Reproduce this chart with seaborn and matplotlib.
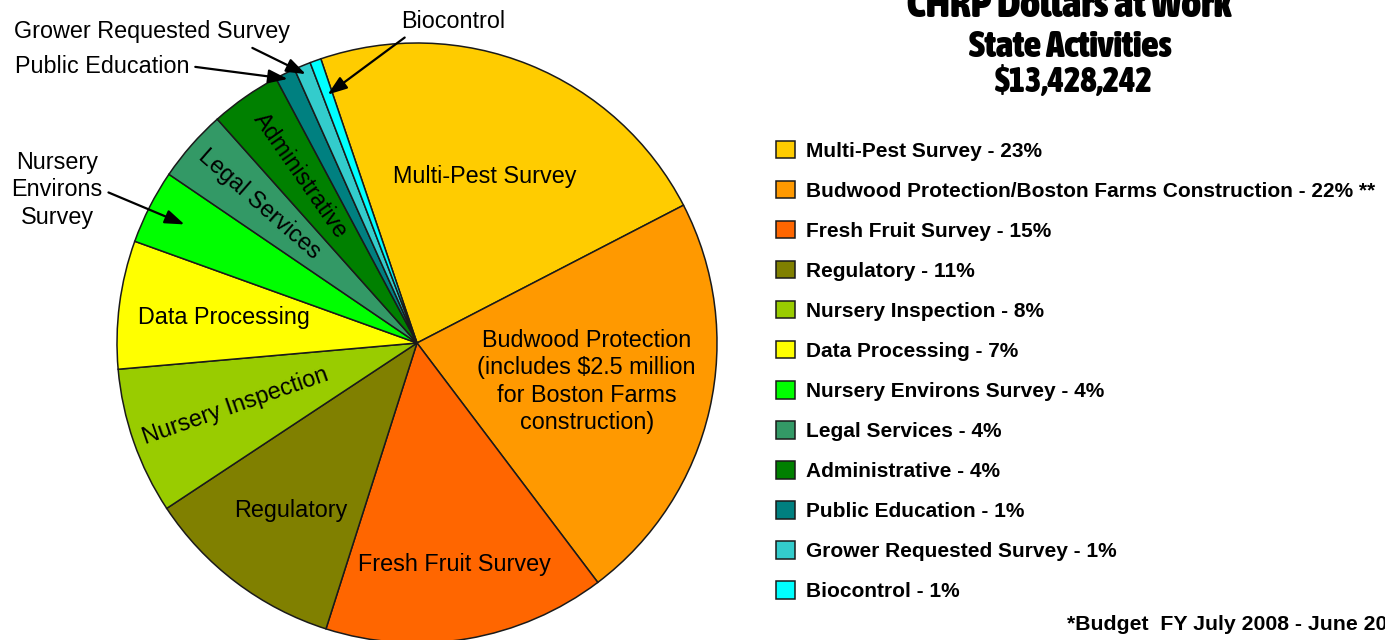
import numpy as np
import matplotlib
matplotlib.use('Agg')
import matplotlib.pyplot as plt
from matplotlib import font_manager
from matplotlib.font_manager import FontProperties
import seaborn as sns

# slice data (share of budget)
categories = ['Multi-Pest Survey', 'Budwood Protection/Boston Farms Construction',
              'Fresh Fruit Survey', 'Regulatory', 'Nursery Inspection',
              'Data Processing', 'Nursery Environs Survey', 'Legal Services',
              'Administrative', 'Public Education', 'Grower Requested Survey',
              'Biocontrol']
shares = [22.6, 22.3, 15.2, 10.8, 7.9, 6.9, 4.0, 3.9, 3.8, 1.1, 0.9, 0.6]
legend_pct = ['23%', '22% **', '15%', '11%', '8%', '7%', '4%', '4%', '4%',
              '1%', '1%', '1%']
slice_colors = ['#FFCC00', '#FF9900', '#FF6600', '#808000', '#99CC00', '#FFFF00',
                '#00FF00', '#339966', '#008000', '#008080', '#33CCCC', '#00FFFF']

# labels drawn inside the slices: text, radius, radial rotation
inner_labels = {
    'Multi-Pest Survey': ('Multi-Pest Survey', 0.60, False),
    'Budwood Protection/Boston Farms Construction':
        ('Budwood Protection\n(includes $2.5 million\nfor Boston Farms\nconstruction)', 0.58, False),
    'Fresh Fruit Survey': ('Fresh Fruit Survey', 0.75, False),
    'Regulatory': ('Regulatory', 0.70, False),
    'Nursery Inspection': ('Nursery Inspection', 0.64, True),
    'Data Processing': ('Data Processing', 0.65, False),
    'Legal Services': ('Legal Services', 0.70, True),
    'Administrative': ('Administrative', 0.68, True),
}

# labels outside the pie with arrows: text, text pos (data units), arrow radius, relpos
outer_labels = {
    'Nursery Environs Survey': ('Nursery\nEnvirons\nSurvey', (-1.20, 0.51), 0.87, (1.0, 0.5)),
    'Public Education': ('Public Education', (-1.05, 0.923), 0.98, (1.0, 0.5)),
    'Grower Requested Survey': ('Grower Requested Survey', (-0.883, 1.037), 0.97, (0.83, 0.0)),
    'Biocontrol': ('Biocontrol', (0.12, 1.073), 0.88, (0.1, 0.0)),
}

sns.set_theme(style='white')
plt.rcParams['font.family'] = ['Liberation Sans', 'DejaVu Sans']
plt.rcParams['text.color'] = 'black'


def headline_font(size):
    # heavy condensed face for the headline (closest thing to Impact here)
    files = [f.fname for f in font_manager.fontManager.ttflist]
    for key in ('Black', 'ExtraBold', 'Bold'):
        hits = sorted(p for p in files
                      if ('Condensed' in p or 'Narrow' in p) and key in p
                      and 'Italic' not in p and 'Oblique' not in p)
        if hits:
            return FontProperties(fname=hits[0], size=size)
    return FontProperties(family='DejaVu Sans', weight='bold', size=size)


W, H = 1385, 640
fig = plt.figure(figsize=(W / 100, H / 100), dpi=100)
ax = fig.add_axes([117 / W, -3 / H, 600 / W, 600 / H])

wedges, _ = ax.pie(shares, colors=sns.color_palette(slice_colors),
                   startangle=108.7, counterclock=False,
                   wedgeprops=dict(edgecolor='#1a1a1a', linewidth=1.1))
ax.set_xlim(-1, 1)
ax.set_ylim(-1, 1)
ax.axis('off')

for w, cat in zip(wedges, categories):
    mid = np.deg2rad((w.theta1 + w.theta2) / 2)
    if cat in inner_labels:
        txt, r, rot = inner_labels[cat]
        angle = np.rad2deg(mid) - 180 if rot else 0
        ax.text(r * np.cos(mid), r * np.sin(mid), txt, ha='center', va='center',
                fontsize=16.8, rotation=angle, rotation_mode='anchor',
                color='black', linespacing=1.25)
    if cat in outer_labels:
        txt, pos, r, rp = outer_labels[cat]
        ax.annotate(txt, xy=(r * np.cos(mid), r * np.sin(mid)), xytext=pos,
                    ha='center', va='center', fontsize=16.8, linespacing=1.25,
                    annotation_clip=False, color='black',
                    arrowprops=dict(arrowstyle='-|>,head_length=0.7,head_width=0.25',
                                    color='black', lw=1.6, relpos=rp,
                                    shrinkA=2, shrinkB=0))

# legend on the right
leg_labels = [f'{c} - {p}' for c, p in zip(categories, legend_pct)]
fig.legend(wedges, leg_labels, loc='upper left',
           bbox_to_anchor=(776 / W, 1 - 141 / H), frameon=False,
           prop=dict(family='Liberation Sans', weight='bold', size=15),
           handlelength=0.9, handleheight=0.9, handletextpad=0.55,
           labelspacing=0.97, borderpad=0, borderaxespad=0)

# titles
fig.text(1069 / W, 1 - 17 / H, 'CHRP Dollars at Work', ha='center', va='baseline',
         fontproperties=headline_font(30), color='black')
fig.text(1070 / W, 1 - 57 / H, 'State Activities', ha='center', va='baseline',
         fontproperties=headline_font(27), color='black')
fig.text(1074 / W, 1 - 92 / H, '$13,428,242', ha='center', va='baseline',
         fontproperties=headline_font(25), color='black')

fig.text(1067 / W, 1 - 624 / H, '*Budget  FY July 2008 - June 2009',
         ha='left', va='center', weight='bold', size=15.3, color='black')

fig.savefig('out.png', dpi=100, facecolor='white')
